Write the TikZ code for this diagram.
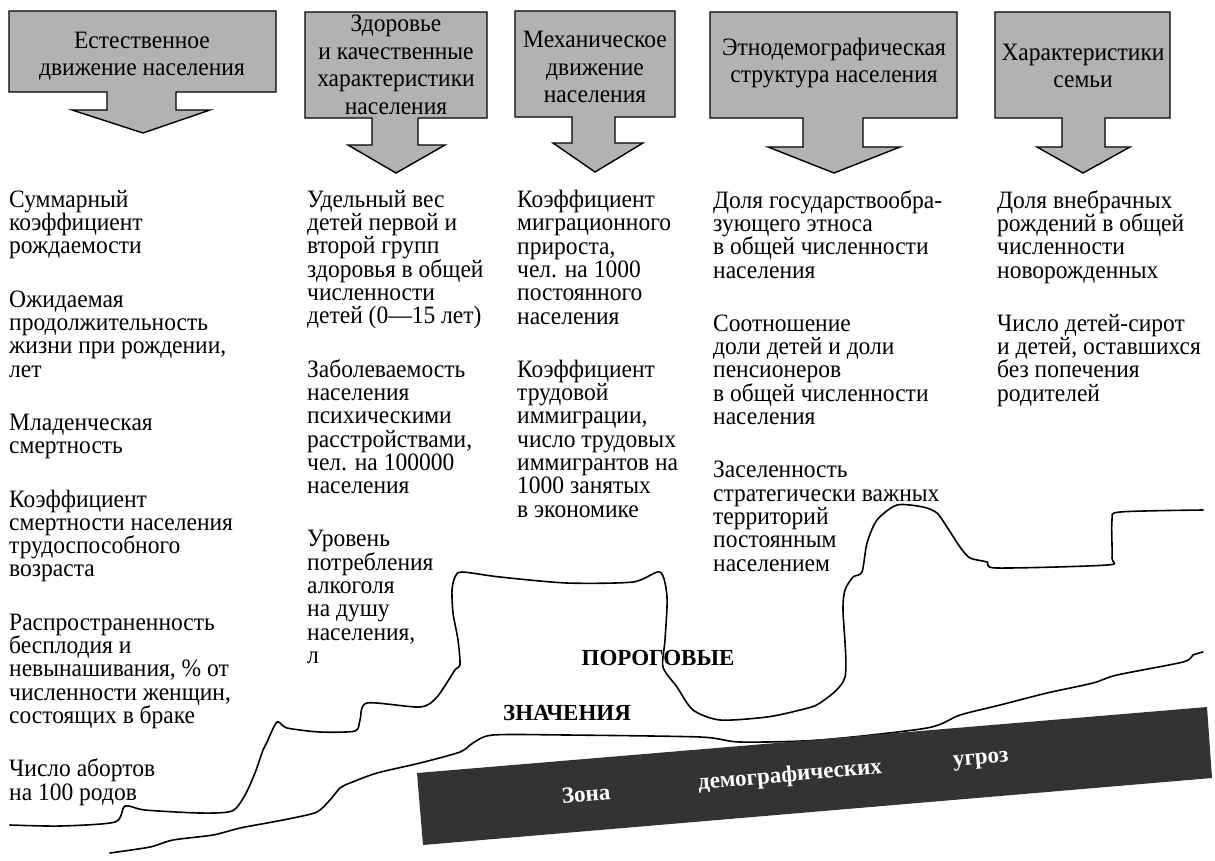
\documentclass[tikz,border=0pt]{standalone}
\usepackage{fontspec}
\setmainfont{Liberation Serif}
\newfontfamily\tallserif{Liberation Serif}[FakeStretch=0.94]
\definecolor{boxgray}{gray}{0.7}
\definecolor{zonegray}{gray}{0.2}
\tikzset{
  arrowbox/.style={draw, fill=boxgray, line width=1.4pt, line join=miter},
  headtext/.style={align=center, inner sep=0pt, font=\tallserif\fontsize{25}{27.5}\selectfont},
  coltext/.style={anchor=north west, align=left, inner sep=0pt, font=\tallserif\fontsize{25}{23.3}\selectfont},
  border/.style={line width=1.6pt, line join=round, line cap=round},
  zonetext/.style={text=white, rotate=4.8, inner sep=0pt, font=\fontsize{23}{23}\selectfont\bfseries},
  bigword/.style={inner sep=0pt, font=\fontsize{23}{23}\selectfont\bfseries}
}
\begin{document}
\begin{tikzpicture}[x=1pt, y=-1pt]
\useasboundingbox (0,0) rectangle (1215,860);

\draw [arrowbox] (9,11) -- (276,11) -- (276,92) -- (176,92) -- (176,110) -- (210,110) -- (143,133) -- (72,110) -- (107,110) -- (107,92) -- (9,92) -- cycle;
\draw [arrowbox] (305,12) -- (487,12) -- (487,118) -- (418,118) -- (418,145) -- (445,145) -- (396,173) -- (348,145) -- (372,145) -- (372,118) -- (305,118) -- cycle;
\draw [arrowbox] (515,11) -- (675,11) -- (675,117) -- (615,117) -- (615,143) -- (643,143) -- (595,172) -- (553,143) -- (572,143) -- (572,117) -- (515,117) -- cycle;
\draw [arrowbox] (710,12) -- (957,12) -- (957,118) -- (863,118) -- (863,147) -- (900,147) -- (834,173) -- (768,147) -- (803,147) -- (803,118) -- (710,118) -- cycle;
\draw [arrowbox] (995,12) -- (1170,12) -- (1170,118) -- (1105,118) -- (1105,147) -- (1130,147) -- (1083,173) -- (1037,147) -- (1062,147) -- (1062,118) -- (995,118) -- cycle;

\node [headtext] (natural) at (142,56) {Естественное\\движение населения};
\node [headtext] (health) at (396,65) {Здоровье\\и качественные\\характеристики\\населения};
\node [headtext] (migration) at (595,67) {Механическое\\движение\\населения};
\node [headtext] (ethno) at (834,63) {Этнодемографическая\\структура населения};
\node [headtext] (family) at (1083,66) {Характеристики\\семьи};

\node [coltext] (naturallist) at (9,190) {Суммарный\\коэффициент\\рождаемости\\[30pt]Ожидаемая\\продолжительность\\жизни при рождении,\\лет\\[30pt]Младенческая\\смертность\\[30pt]Коэффициент\\смертности населения\\трудоспособного\\возраста\\[30pt]Распространенность\\бесплодия и\\невынашивания, \% от\\численности женщин,\\состоящих в браке\\[30pt]Число абортов\\на 100 родов};
\node [coltext] (healthlist) at (307,190) {Удельный вес\\детей первой и\\второй групп\\здоровья в общей\\численности\\детей (0—15 лет)\\[30pt]Заболеваемость\\населения\\психическими\\расстройствами,\\чел. на 100000\\населения\\[30pt]Уровень\\потребления\\алкоголя\\на душу\\населения,\\л};
\node [coltext] (migrationlist) at (517,190) {Коэффициент\\миграционного\\прироста,\\чел. на 1000\\постоянного\\населения\\[30pt]Коэффициент\\трудовой\\иммиграции,\\число трудовых\\иммигрантов на\\1000 занятых\\в экономике};
\node [coltext] (ethnolist) at (713,190) {Доля государствообра-\\зующего этноса\\в общей численности\\населения\\[30pt]Соотношение\\доли детей и доли\\пенсионеров\\в общей численности\\населения\\[30pt]Заселенность\\стратегически важных\\территорий\\постоянным\\населением};
\node [coltext] (familylist) at (997,190) {Доля внебрачных\\рождений в общей\\численности\\новорожденных\\[30pt]Число детей-сирот\\и детей, оставшихся\\без попечения\\родителей};

\draw [border] plot [smooth, tension=0.45] coordinates {(10,825) (60,826) (115,822) (125,806) (145,810) (200,813) (232,811) (245,795) (255,773) (263,750) (267,742) (277,722) (287,728) (320,732) (355,731) (360,720) (367,703) (420,707) (437,697) (455,670) (460,665) (458,640) (453,613) (452,590) (455,577) (462,572) (500,577) (567,583) (633,582) (660,572) (667,597) (665,640) (663,667) (677,687) (693,710) (720,720) (767,717) (800,710) (820,703) (845,677) (843,610) (845,590) (853,577) (862,572) (867,543) (877,520) (897,505) (923,507) (937,513) (947,527) (960,547) (970,558) (987,562) (997,568) (1107,565) (1112,558) (1112,520) (1120,512) (1203,510)};
\draw [border] plot [smooth, tension=0.45] coordinates {(110,853) (150,847) (173,840) (213,835) (240,828) (267,823) (293,818) (317,812) (330,800) (340,788) (350,783) (377,773) (420,763) (460,752) (473,743) (493,735) (567,735) (700,737) (740,742) (820,740) (927,728) (960,715) (1000,705) (1047,693) (1093,683) (1117,675) (1183,662) (1193,655) (1203,652)};

\fill [zonegray] (417,773) -- (1207,707) -- (1212,778) -- (423,845) -- cycle;
\node [zonetext] (zone1) at (586,794) {Зона};
\node [zonetext] (zone2) at (790,776) {демографических};
\node [zonetext] (zone3) at (981,761) {угроз};

\node [bigword] (threshold) at (658,658) {ПОРОГОВЫЕ};
\node [bigword] (values) at (567,713) {ЗНАЧЕНИЯ};
\end{tikzpicture}
\end{document}
